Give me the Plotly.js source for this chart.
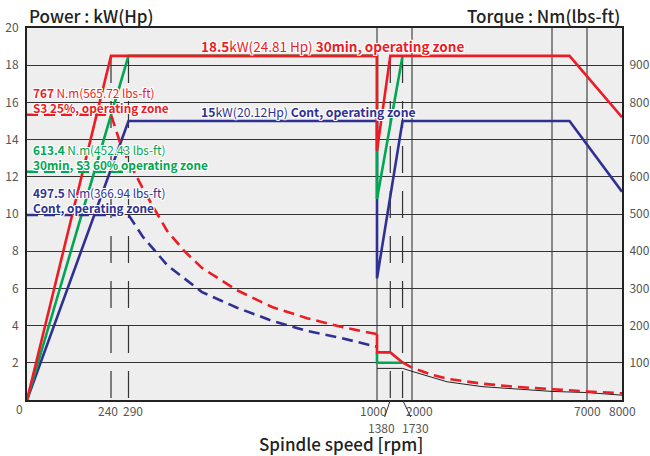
<!DOCTYPE html>
<html><head><meta charset="utf-8">
<script src="https://cdn.plot.ly/plotly-3.0.1.min.js"></script>
<style>html,body{margin:0;padding:0;background:#fff;}#chart{width:650px;height:456px;}</style>
</head><body><div id="chart"></div>
<script>
// ---------- data (rpm, kW, Nm) ----------
const powerRed30Rpm = [0, 240, 1000, 1000, 1380, 6500, 8000];
const powerRed30Kw  = [0, 18.5, 18.5, 13.4, 18.5, 18.5, 15.2];
const powerGreenRpm = [0, 290, 1000, 1000, 1730];
const powerGreenKw  = [0, 18.5, 18.5, 10.8, 18.5];
const powerBlueRpm  = [0, 290, 1000, 1000, 1730, 6500, 8000];
const powerBlueKw   = [0, 15, 15, 6.55, 15, 15, 11.2];

const torqueRedLowRpm = [0, 240, 270, 330, 360, 400, 450, 500, 600, 700, 800, 900, 1000];
const torqueRedLowNm  = [767, 767, 680, 570, 520, 455, 400, 355, 295, 250, 220, 196, 177];
const torqueGreenLowRpm = [0, 290];
const torqueGreenLowNm  = [613.4, 613.4];
const torqueBlueLowRpm = [0, 290, 330, 400, 500, 600, 700, 800, 900, 1000];
const torqueBlueLowNm  = [497.5, 497.5, 440, 363, 290, 248, 213, 186, 166, 143];

const torqueRedGearRpm = [1000, 1000, 1380, 1730];
const torqueRedGearNm  = [177, 128, 128, 101];
const torqueGreenGearRpm = [1000, 1000, 1730];
const torqueGreenGearNm  = [128, 100, 100];
const torqueRedHighRpm = [1730, 2000, 2500, 3000, 4000, 5000, 6000, 6500, 7000, 8000];
const torqueRedHighNm  = [101, 87, 70, 57, 44, 35, 29, 27, 23, 18];
const torqueContHighRpm = [1000, 1730, 2000, 2500, 3000, 4000, 5000, 6000, 7000, 8000];
const torqueContHighNm  = [85, 85, 77, 62, 49, 36, 29, 23, 20, 13];

const xTickRpm = [240, 290, 1000, 2000, 7000, 8000];
const xLeaderRpm = [1380, 1730];
const xGridSolidRpm = [1000, 2000, 6000, 7000];
const xGridDashRpm = [240, 290, 1380, 1730];
const yTicksKw = [2, 4, 6, 8, 10, 12, 14, 16, 18, 20];
const yTicksNm = [100, 200, 300, 400, 500, 600, 700, 800, 900];

// ---------- styling ----------
const FONT = '"Noto Sans CJK KR", "Noto Sans", sans-serif';
const RED = '#ed1c24', GREEN = '#00a651', NAVY = '#2e3192';
const HALO = '-1px -1px 0 #fff, 1px -1px 0 #fff, -1px 1px 0 #fff, 1px 1px 0 #fff, 0 1px 0 #fff, 0 -1px 0 #fff, 1px 0 0 #fff, -1px 0 0 #fff';
const L = 27, R = 622, T = 28, B = 400;
const px = x => (x - L) / (R - L);
const py = y => (B - y) / (B - T);
const toX = r => r <= 1000 ? r : 1000 + (r - 1000) / 10;   // broken rpm axis
const xs = arr => arr.map(toX);

const PW = 2.6, TW = 2.6, DASH = '11px,6px';
function ln(rpm, v, color, width, dash, y2) {
  return {x: xs(rpm), y: v, type: 'scatter', mode: 'lines', yaxis: y2 ? 'y2' : 'y',
          line: {color: color, width: width, dash: dash || 'solid'}, hoverinfo: 'skip', showlegend: false};
}
const data = [
  ln(torqueBlueLowRpm, torqueBlueLowNm, NAVY, TW, DASH, true),
  ln(torqueGreenLowRpm, torqueGreenLowNm, GREEN, TW, DASH, true),
  ln(torqueRedLowRpm, torqueRedLowNm, RED, TW, DASH, true),
  ln(torqueContHighRpm, torqueContHighNm, '#222', 1, null, true),
  ln(torqueRedHighRpm, torqueRedHighNm, RED, TW, DASH, true),
  ln(torqueGreenGearRpm, torqueGreenGearNm, GREEN, TW, null, true),
  ln(torqueRedGearRpm, torqueRedGearNm, RED, TW, null, true),
  ln(powerBlueRpm, powerBlueKw, NAVY, PW),
  ln(powerGreenRpm, powerGreenKw, GREEN, PW),
  ln(powerRed30Rpm, powerRed30Kw, RED, PW)
];

const shapes = [];
xGridSolidRpm.forEach(r => shapes.push({type: 'line', xref: 'x', yref: 'paper', x0: toX(r), x1: toX(r), y0: 0, y1: 1,
  line: {color: '#666', width: 1.5}, layer: 'below'}));
xGridDashRpm.forEach(r => shapes.push({type: 'line', xref: 'x', yref: 'y', x0: toX(r), x1: toX(r), y0: 18.5, y1: 0,
  line: {color: '#333', width: 1.2, dash: '27px,18px'}, layer: 'below'}));

const tickFont = {family: FONT, size: 12, color: '#555'};
const xShift = [-3, 4, -4, 7, 0, 0];
const annotations = [];
xTickRpm.forEach((r, i) => annotations.push({xref: 'x', yref: 'paper', x: toX(r), y: py(410), xshift: xShift[i],
  text: String(r), showarrow: false, xanchor: 'center', yanchor: 'middle', font: tickFont}));
const leadAx = [-9, 13];
xLeaderRpm.forEach((r, i) => annotations.push({xref: 'x', yref: 'y', x: toX(r), y: 0, text: String(r),
  showarrow: true, arrowhead: 0, arrowwidth: 1, arrowcolor: '#333', ax: leadAx[i], ay: 27, standoff: 0,
  font: tickFont}));
annotations.push({xref: 'paper', yref: 'paper', x: px(19), y: py(408), text: '0', showarrow: false,
  xanchor: 'center', yanchor: 'middle', font: tickFont});

const titleFont = {family: FONT, size: 17, color: '#222', weight: 500};
annotations.push({xref: 'paper', yref: 'paper', x: 0, y: py(15), text: 'Power : kW(Hp)', showarrow: false,
  xanchor: 'left', yanchor: 'middle', font: titleFont});
annotations.push({xref: 'paper', yref: 'paper', x: 1, y: py(15), text: 'Torque : Nm(lbs-ft)', showarrow: false,
  xanchor: 'right', yanchor: 'middle', font: titleFont});
annotations.push({xref: 'paper', yref: 'paper', x: px(341), y: py(444), text: 'Spindle speed [rpm]', showarrow: false,
  xanchor: 'center', yanchor: 'middle', font: titleFont});

function lbl(x, y, text, color, size) {
  annotations.push({xref: 'paper', yref: 'paper', x: px(x), y: py(y), text: text, showarrow: false,
    xanchor: 'left', yanchor: 'middle', align: 'left', font: {family: FONT, size: size, color: color, shadow: HALO}});
}
lbl(199, 46, '<b>18.5</b>kW(24.81 Hp) <b>30min, operating zone</b>', RED, 13.5);
lbl(199, 112, '<b>15</b>kW(20.12Hp) <b>Cont, operating zone</b>', NAVY, 12.2);
lbl(31, 100, '<b>767</b> N.m(565.72 lbs-ft)<br><b>S3 25%, operating zone</b>', RED, 11.8);
lbl(31, 157, '<b>613.4</b> N.m(452.43 lbs-ft)<br><b>30min, S3 60% operating zone</b>', GREEN, 11.8);
lbl(31, 199.5, '<b>497.5</b> N.m(366.94 lbs-ft)<br><b>Cont, operating zone</b>', NAVY, 11.8);

const layout = {
  width: 650, height: 456,
  margin: {l: L, r: 650 - R, t: T, b: 456 - B},
  paper_bgcolor: '#fff', plot_bgcolor: '#eeeeee',
  showlegend: false,
  xaxis: {range: [0, toX(8000)], showgrid: false, zeroline: false, showticklabels: false, ticks: '',
    showline: true, mirror: true, linecolor: '#222', linewidth: 2, fixedrange: true},
  yaxis: {range: [0, 20], tickvals: yTicksKw, showgrid: true, gridcolor: '#333', gridwidth: 1, zeroline: false,
    showline: true, mirror: true, linecolor: '#222', linewidth: 2, ticks: '', tickfont: tickFont, ticklabelstandoff: 4},
  yaxis2: {range: [0, 1000], tickvals: yTicksNm, overlaying: 'y', side: 'right', showgrid: false, zeroline: false,
    showline: true, linecolor: '#222', linewidth: 2, ticks: '', tickfont: tickFont, ticklabelstandoff: 3},
  shapes: shapes,
  annotations: annotations
};
Plotly.newPlot('chart', data, layout, {staticPlot: true, displayModeBar: false});
</script>
</body></html>
